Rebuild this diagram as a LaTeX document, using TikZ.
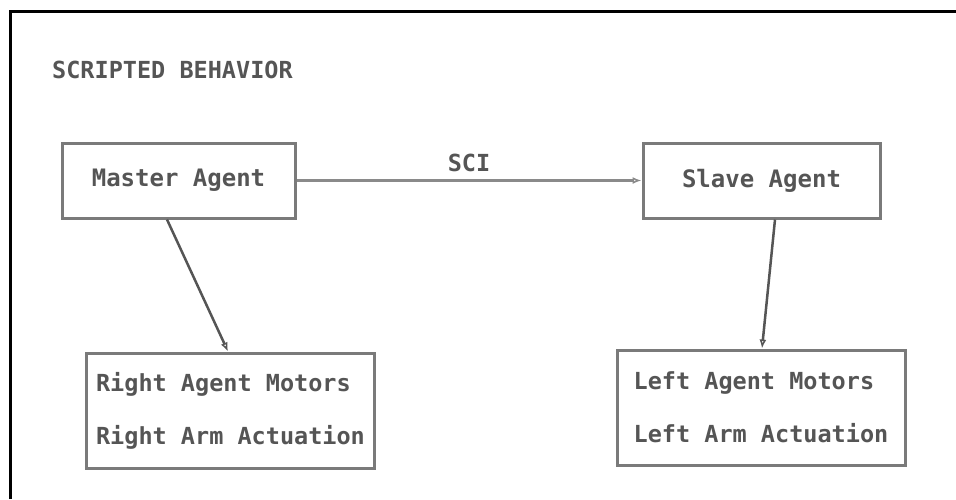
\documentclass[tikz,border=0pt]{standalone}
\usepackage{fontspec}
\setmonofont{DejaVu Sans Mono}
\usetikzlibrary{positioning, arrows.meta}

\definecolor{boxgray}{HTML}{7A7A7A}
\definecolor{inkgray}{HTML}{555555}
\definecolor{wiregray}{HTML}{8A8A8A}

\tikzset{
  agent/.style={draw=boxgray, line width=3pt, rectangle,
    minimum width=233pt, minimum height=75pt,
    font=\ttfamily\bfseries\fontsize{24}{28}\selectfont, text=inkgray},
  motors/.style={draw=boxgray, line width=3pt, rectangle,
    minimum width=288pt, minimum height=115pt, align=left,
    font=\ttfamily\bfseries\fontsize{23.5}{53}\selectfont, text=inkgray},
  link/.style={draw=inkgray, line width=2.5pt,
    -{Latex[open, length=9pt, width=7pt, line width=1.5pt]}}
}

\begin{document}
\begin{tikzpicture}[x=1pt, y=-1pt]
\useasboundingbox (0,0) rectangle (956,499);
% frame
\draw[line width=3pt, black] (10,499) -- (10,11) -- (956,11);

\node[font=\ttfamily\bfseries\fontsize{23.5}{28}\selectfont, text=inkgray,
  anchor=west, inner sep=0pt] (title) at (52,70) {SCRIPTED BEHAVIOR};

\node[agent] (master) at (178.5,180.5) {Master Agent};
\node[agent, right=345pt of master, minimum width=237pt] (slave)
  {Slave Agent};
\node[motors] (rmotors) at (230.5,410.5)
  {Right Agent Motors\\Right Arm Actuation};
\node[motors] (lmotors) at (761,407.5)
  {Left Agent Motors\\Left Arm Actuation};

\draw[link, draw=wiregray, line width=3pt] (master) --
  node[midway, above=4pt, font=\ttfamily\bfseries\fontsize{23.5}{28}\selectfont,
    text=inkgray] {SCI} (slave);
\draw[link] ([xshift=-11.5pt]master.south) -- ([xshift=-2.5pt]rmotors.north);
\draw[link] ([xshift=13.5pt]slave.south) -- ([xshift=1pt]lmotors.north);
\end{tikzpicture}
\end{document}
